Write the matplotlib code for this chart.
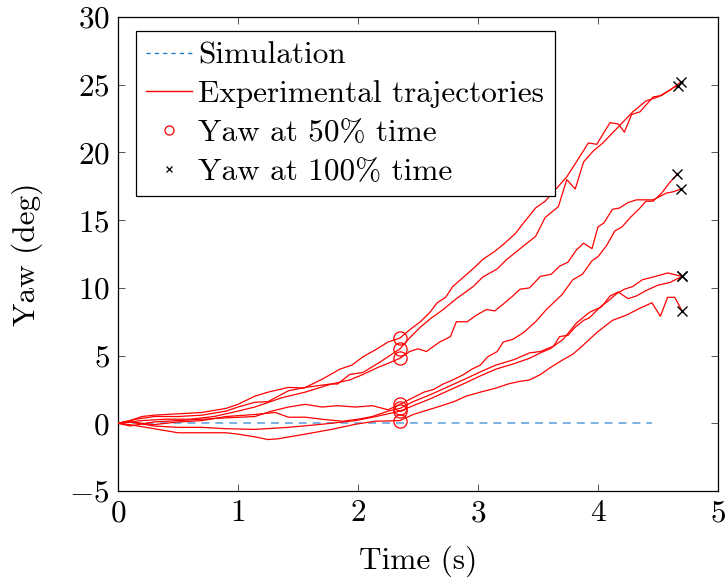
import matplotlib
matplotlib.use('Agg')
import matplotlib.pyplot as plt
from matplotlib.lines import Line2D

plt.rcParams.update({
    "font.family": "serif",
    "font.serif": ["cmr10"],
    "mathtext.fontset": "cm",
    "axes.formatter.use_mathtext": True,
    "font.size": 22.5,
})

# ---- data ----
sim_t = [0.0, 4.45]
sim_yaw = [0.0, 0.0]

t_u1 = [0, 0.1, 0.2, 0.3, 0.5, 0.7, 0.9, 1.0, 1.14, 1.25, 1.42, 1.55, 1.7, 1.77, 1.85, 1.95,
        2.04, 2.16, 2.25, 2.35, 2.43, 2.52, 2.6, 2.66, 2.73, 2.79, 2.88, 2.97, 3.04, 3.14,
        3.21, 3.31, 3.38, 3.48, 3.56, 3.66, 3.74, 3.82, 3.92, 3.99, 4.1, 4.17, 4.22, 4.28,
        4.35, 4.46, 4.53, 4.63, 4.67]
yaw_u1 = [0, 0.2, 0.5, 0.6, 0.7, 0.8, 1.1, 1.4, 2.0, 2.3, 2.65, 2.6, 3.25, 3.6, 4.0, 4.3,
          4.9, 5.5, 6.0, 6.3, 6.9, 7.5, 8.2, 8.9, 9.3, 10.1, 10.8, 11.5, 12.1, 12.7,
          13.2, 14.0, 14.8, 15.9, 16.4, 17.4, 18.2, 19.3, 20.7, 20.6, 22.2, 22.1, 21.5, 22.8,
          23.0, 24.1, 24.2, 24.8, 24.9]

t_u2 = [0, 0.15, 0.3, 0.5, 0.7, 0.9, 1.0, 1.14, 1.25, 1.42, 1.56, 1.77, 1.83, 1.93, 2.04,
        2.18, 2.35, 2.43, 2.52, 2.6, 2.71, 2.82, 2.96, 3.04, 3.16, 3.24, 3.38, 3.48, 3.56,
        3.67, 3.74, 3.81, 3.88, 3.96, 4.04, 4.16, 4.29, 4.4, 4.5, 4.6, 4.69]
yaw_u2 = [0, 0.3, 0.5, 0.5, 0.6, 0.9, 1.2, 1.55, 1.6, 2.4, 2.65, 2.9, 2.9, 3.6, 3.75,
          4.5, 5.5, 6.3, 7.1, 7.7, 8.4, 9.2, 10.1, 10.8, 11.4, 12.1, 13.1, 13.8, 15.2,
          16.0, 18.0, 17.3, 19.3, 20.1, 20.7, 21.8, 23.0, 23.8, 24.1, 24.6, 25.2]

t_u3 = [0, 0.2, 0.4, 0.6, 0.8, 1.0, 1.14, 1.37, 1.56, 1.78, 1.93, 2.04, 2.16, 2.27, 2.35,
        2.43, 2.5, 2.57, 2.68, 2.77, 2.82, 2.91, 2.99, 3.07, 3.14, 3.21, 3.29, 3.35, 3.43,
        3.52, 3.61, 3.68, 3.75, 3.82, 3.88, 3.95, 4.0, 4.05, 4.12, 4.18, 4.25, 4.32, 4.4,
        4.46, 4.57, 4.63, 4.69]
yaw_u3 = [0, 0.2, 0.3, 0.3, 0.5, 0.9, 1.2, 1.9, 2.3, 2.9, 3.2, 3.6, 4.1, 4.5, 4.8,
          5.3, 5.5, 5.3, 6.0, 6.4, 7.5, 7.5, 8.0, 8.4, 8.3, 8.8, 9.4, 9.9, 10.0,
          10.85, 11.0, 11.6, 11.9, 12.8, 13.3, 12.9, 14.5, 14.8, 15.8, 15.9, 16.3, 16.5, 16.5,
          16.5, 17.0, 17.1, 17.3]

t_l1 = [0, 0.1, 0.3, 0.5, 0.7, 0.9, 1.14, 1.28, 1.42, 1.56, 1.7, 1.83, 1.98, 2.12, 2.25,
        2.35, 2.46, 2.55, 2.63, 2.71, 2.79, 2.88, 2.95, 3.02, 3.08, 3.16, 3.21, 3.29, 3.38,
        3.48, 3.57, 3.7, 3.79, 3.87, 3.95, 4.0, 4.07, 4.14, 4.2, 4.27, 4.35, 4.4, 4.46,
        4.53, 4.6, 4.66]
yaw_l1 = [0, -0.2, 0.1, 0.2, 0.3, 0.4, 0.5, 0.9, 1.2, 1.4, 1.2, 1.3, 1.2, 1.3, 1.0,
          1.4, 1.9, 2.3, 2.5, 2.9, 3.2, 3.6, 4.0, 4.3, 4.9, 5.3, 6.0, 6.2, 6.7,
          7.5, 8.4, 9.5, 10.6, 11.0, 12.0, 12.3, 13.1, 14.2, 14.5, 15.2, 15.9, 16.4, 16.4,
          17.0, 17.8, 18.4]

t_l2 = [0, 0.1, 0.3, 0.5, 0.7, 0.9, 1.14, 1.31, 1.42, 1.56, 1.7, 1.87, 2.0, 2.12, 2.25,
        2.35, 2.46, 2.6, 2.75, 2.9, 3.02, 3.15, 3.3, 3.43, 3.52, 3.63, 3.68, 3.75, 3.81,
        3.88, 3.93, 4.02, 4.08, 4.16, 4.22, 4.29, 4.37, 4.48, 4.58, 4.7]
yaw_l2 = [0, 0.1, -0.1, 0.1, 0.2, 0.5, 0.65, 0.8, 0.45, 0.45, 0.3, 0.15, 0.3, 0.5, 0.9,
          1.1, 1.6, 2.1, 2.7, 3.3, 3.8, 4.3, 4.7, 5.2, 5.3, 5.7, 6.4, 6.5, 7.1,
          7.6, 7.8, 8.6, 9.0, 9.6, 9.9, 10.1, 10.6, 10.85, 11.1, 10.85]

t_l3 = [0, 0.1, 0.3, 0.5, 0.7, 0.9, 1.14, 1.42, 1.7, 1.98, 2.15, 2.35, 2.46, 2.6, 2.75,
        2.9, 3.02, 3.15, 3.3, 3.43, 3.52, 3.6, 3.71, 3.82, 3.93, 4.03, 4.1, 4.17, 4.25,
        4.32, 4.4, 4.5, 4.6, 4.7]
yaw_l3 = [0, 0.1, -0.2, -0.3, -0.3, -0.4, -0.45, -0.3, -0.07, 0.2, 0.5, 0.9, 1.3, 1.8, 2.4,
          3.0, 3.5, 4.0, 4.4, 4.8, 5.2, 5.5, 6.2, 7.4, 8.2, 8.6, 9.4, 9.7, 9.2,
          9.4, 9.8, 10.2, 10.4, 10.85]

t_l4 = [0, 0.1, 0.3, 0.5, 0.7, 0.9, 1.0, 1.14, 1.25, 1.33, 1.56, 1.78, 1.98, 2.14, 2.35,
        2.46, 2.55, 2.68, 2.8, 2.9, 3.02, 3.15, 3.25, 3.35, 3.43, 3.52, 3.6, 3.71, 3.79,
        3.88, 3.99, 4.12, 4.24, 4.35, 4.45, 4.52, 4.58, 4.64, 4.7]
yaw_l4 = [0, -0.1, -0.4, -0.7, -0.7, -0.7, -0.8, -1.0, -1.2, -1.15, -0.8, -0.45, -0.07, 0.15, 0.2,
          0.65, 0.9, 1.25, 1.6, 2.0, 2.3, 2.6, 2.9, 3.1, 3.2, 3.6, 4.1, 4.7, 5.1,
          5.8, 6.7, 7.6, 8.0, 8.5, 8.9, 7.9, 9.3, 9.3, 8.3]

# yaw at 50% / 100% of each run
t_half = [2.35, 2.35, 2.35, 2.35, 2.35, 2.35, 2.35]
yaw_half = [6.3, 5.5, 4.8, 1.4, 1.1, 0.9, 0.2]
t_end = [4.67, 4.69, 4.69, 4.66, 4.7, 4.7, 4.7]
yaw_end = [24.9, 25.2, 17.3, 18.4, 10.85, 10.85, 8.3]

runs = [(t_u1, yaw_u1), (t_u2, yaw_u2), (t_u3, yaw_u3),
        (t_l1, yaw_l1), (t_l2, yaw_l2), (t_l3, yaw_l3), (t_l4, yaw_l4)]

sim_color = '#72acdf'

# ---- figure ----
fig = plt.figure(figsize=(7.27, 5.81), dpi=100)
ax = fig.add_axes([0.1623, 0.1549, 0.8253, 0.8158])

ax.plot(sim_t, sim_yaw, color=sim_color, lw=1.3, dashes=(4.4, 3.3), zorder=2)
for t, y in runs:
    ax.plot(t, y, color='red', lw=0.9, zorder=3)
ax.plot(t_half, yaw_half, 'o', ls='none', mfc='none', mec='red', mew=0.9, ms=9.5, zorder=4)
ax.plot(t_end, yaw_end, 'x', ls='none', color='black', mew=1.0, ms=7, zorder=5)

ax.set_xlim(0, 5)
ax.set_ylim(-5, 30)
ax.set_xticks([0, 1, 2, 3, 4, 5])
ax.set_yticks([-5, 0, 5, 10, 15, 20, 25, 30])
ax.tick_params(direction='in', length=5, width=0.7, top=True, right=True,
               labelsize=22.5, pad=6, color='#555555')
for s in ax.spines.values():
    s.set_linewidth(0.9)
ax.set_xlabel('Time (s)', fontsize=22.5, labelpad=13)
ax.set_ylabel('Yaw (deg)', fontsize=22.5, labelpad=19)

handles = [
    Line2D([], [], color='#1f77c8', lw=1.0, dashes=(3, 3)),
    Line2D([], [], color='red', lw=1.0),
    Line2D([], [], marker='o', ls='none', mfc='none', mec='red', mew=0.9, ms=6.5),
    Line2D([], [], marker='x', ls='none', color='black', mew=0.9, ms=4.5),
]
labels = ['Simulation', 'Experimental trajectories', 'Yaw at 50% time', 'Yaw at 100% time']
leg = ax.legend(handles, labels, loc='upper left', bbox_to_anchor=(0.03, 0.97),
                fontsize=22.5, frameon=True, fancybox=False, framealpha=1,
                edgecolor='black', borderpad=0.33, labelspacing=0.35,
                handlelength=1.45, handletextpad=0.22, borderaxespad=0)
leg.get_frame().set_linewidth(0.9)

fig.savefig('out.png', dpi=100)
